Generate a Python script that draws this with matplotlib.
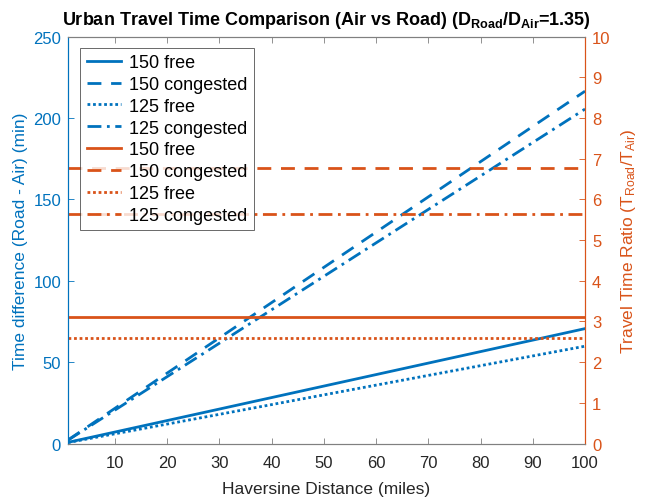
import matplotlib
matplotlib.use("Agg")
import matplotlib.pyplot as plt

plt.rcParams['font.family'] = ['Liberation Sans', 'DejaVu Sans']
plt.rcParams['mathtext.fontset'] = 'custom'
plt.rcParams['mathtext.rm'] = 'Liberation Sans'
plt.rcParams['mathtext.it'] = 'Liberation Sans'
plt.rcParams['mathtext.bf'] = 'Liberation Sans:bold'

BLUE = '#0072BD'
ORANGE = '#D95319'
GRAY = '#262626'

# Data
dist = [1, 100]
diff_150_free = [0.71, 70.6]
diff_150_cong = [2.17, 216.5]
diff_125_free = [0.60, 59.8]
diff_125_cong = [2.06, 205.5]
ratio_150_free = [3.11, 3.11]
ratio_150_cong = [6.77, 6.77]
ratio_125_free = [2.60, 2.60]
ratio_125_cong = [5.63, 5.63]
labels = ['150 free', '150 congested', '125 free', '125 congested']
xticks = [10, 20, 30, 40, 50, 60, 70, 80, 90, 100]
yticks_left = [0, 50, 100, 150, 200, 250]
yticks_right = list(range(0, 11))

fig = plt.figure(figsize=(6.45, 5.02), dpi=100)
ax = fig.add_axes([0.1054, 0.1145, 0.8016, 0.8105])
ax2 = ax.twinx()

lw = 2.0
styles = ['-', (0, (5, 3.5)), (0, (1, 1)), (0, (5, 2, 1, 2))]
h = []
for y, ls, lab in zip([diff_150_free, diff_150_cong, diff_125_free, diff_125_cong], styles, labels):
    h += ax.plot(dist, y, color=BLUE, lw=lw, ls=ls, label=lab)
for y, ls, lab in zip([ratio_150_free, ratio_150_cong, ratio_125_free, ratio_125_cong], styles, labels):
    h += ax2.plot(dist, y, color=ORANGE, lw=lw, ls=ls, label=lab)

ax.set_xlim(1, 100)
ax.set_ylim(0, 250)
ax2.set_ylim(0, 10)
ax.set_xticks(xticks)
ax.set_yticks(yticks_left)
ax2.set_yticks(yticks_right)

for a in (ax, ax2):
    a.tick_params(direction='in', length=4, width=0.6, labelsize=12)
ax.tick_params(axis='x', colors='#808080', labelcolor=GRAY, top=True, pad=8)
ax.tick_params(axis='y', colors=BLUE, labelcolor=BLUE, pad=5)
ax2.tick_params(axis='y', colors=ORANGE, labelcolor=ORANGE, pad=5)

ax.spines['bottom'].set_color('#808080')
ax.spines['top'].set_color('#808080')
ax2.spines['top'].set_color('#808080')
ax2.spines['bottom'].set_color('#808080')
ax.spines['left'].set_color(BLUE)
ax2.spines['left'].set_color(BLUE)
ax2.spines['right'].set_color(ORANGE)
ax.spines['right'].set_color(ORANGE)
for a in (ax, ax2):
    for s in a.spines.values():
        s.set_linewidth(0.8)

ax.set_xlabel('Haversine Distance (miles)', fontsize=12.5, color=GRAY, labelpad=8)
ax.set_ylabel('Time difference (Road - Air) (min)', fontsize=12.5, color=BLUE, labelpad=4)
ax2.set_ylabel(r'Travel Time Ratio (T$_{Road}$/T$_{Air}$)', fontsize=12.5, color=ORANGE, labelpad=6)
ax.set_title(r'Urban Travel Time Comparison (Air vs Road) ($\mathbf{D_{Road}/D_{Air}}$=1.35)',
             fontsize=13, fontweight='bold', color='black', pad=9)

leg = ax2.legend(h, labels * 2, loc='upper left', bbox_to_anchor=(0.024, 0.973),
                 fontsize=13, frameon=True, fancybox=False, edgecolor='#262626',
                 handlelength=1.9, handletextpad=0.45, labelspacing=0.27,
                 borderpad=0.35, borderaxespad=0)
leg.get_frame().set_linewidth(0.6)
for t in leg.get_texts():
    t.set_color('black')

fig.savefig('out.png', dpi=100)
